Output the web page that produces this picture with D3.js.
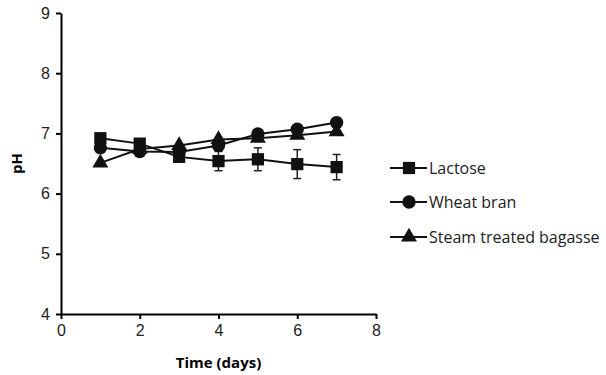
<!DOCTYPE html>
<html>
<head>
<meta charset="utf-8">
<script src="https://cdn.jsdelivr.net/npm/d3@7"></script>
<style>
  body { margin: 0; background: #fff; }
  svg { font-family: "Open Sans", "DejaVu Sans", sans-serif; }
  .axis path, .axis line { stroke: #000; stroke-width: 2; }
  .axis text { font-size: 16px; fill: #222; }
</style>
</head>
<body>
<div id="chart"></div>
<script>
const days = [1, 2, 3, 4, 5, 6, 7];
const lactose = [6.92, 6.83, 6.61, 6.54, 6.57, 6.49, 6.44];
const lactoseErr = [0.04, 0.04, 0.05, 0.16, 0.19, 0.24, 0.21];
const wheatBran = [6.76, 6.70, 6.69, 6.80, 6.99, 7.07, 7.18];
const bagasse = [6.51, 6.74, 6.80, 6.90, 6.92, 6.97, 7.03];
const seriesNames = ['Lactose', 'Wheat bran', 'Steam treated bagasse'];
const xTicks = [0, 2, 4, 6, 8];
const yTicks = [4, 5, 6, 7, 8, 9];

const W = 606, H = 375, M = { t: 13, r: 230, b: 61, l: 61 };
const svg = d3.select('#chart').append('svg').attr('width', W).attr('height', H);

const x = d3.scaleLinear().domain([0, 8]).range([M.l, W - M.r]);
const y = d3.scaleLinear().domain([4, 9]).range([H - M.b, M.t]);

svg.append('g').attr('class', 'axis').attr('transform', `translate(0,${H - M.b})`)
  .call(d3.axisBottom(x).tickValues(xTicks).tickFormat(d3.format('d')).tickSize(5).tickSizeOuter(0).tickPadding(6));
svg.append('g').attr('class', 'axis').attr('transform', `translate(${M.l},0)`)
  .call(d3.axisLeft(y).tickValues(yTicks).tickFormat(d3.format('d')).tickSize(5).tickSizeOuter(0).tickPadding(6));

svg.append('text').attr('x', (M.l + W - M.r) / 2).attr('y', 368).attr('text-anchor', 'middle')
  .style('font-size', '15px').style('font-weight', 'bold').text('Time (days)');
svg.append('text').attr('transform', `translate(22,${(M.t + H - M.b) / 2}) rotate(-90)`)
  .attr('text-anchor', 'middle').style('font-size', '15px').style('font-weight', 'bold').text('pH');

const series = [
  { name: seriesNames[0], vals: lactose, err: lactoseErr, sym: d3.symbolSquare, size: 150 },
  { name: seriesNames[1], vals: wheatBran, err: null, sym: d3.symbolCircle, size: 140 },
  { name: seriesNames[2], vals: bagasse, err: null, sym: d3.symbolTriangle, size: 110 }
];

const line = d3.line().x((d, i) => x(days[i])).y(d => y(d));

// error bars
const eb = svg.append('g').attr('stroke', '#222').attr('stroke-width', 1.5);
lactose.forEach((v, i) => {
  const e = lactoseErr[i], cx = x(days[i]);
  eb.append('line').attr('x1', cx).attr('x2', cx).attr('y1', y(v + e)).attr('y2', y(v - e));
  eb.append('line').attr('x1', cx - 4).attr('x2', cx + 4).attr('y1', y(v + e)).attr('y2', y(v + e));
  eb.append('line').attr('x1', cx - 4).attr('x2', cx + 4).attr('y1', y(v - e)).attr('y2', y(v - e));
});

series.forEach(s => {
  svg.append('path').datum(s.vals).attr('d', line).attr('fill', 'none').attr('stroke', '#111').attr('stroke-width', 2);
  svg.selectAll(null).data(s.vals).enter().append('path')
    .attr('d', d3.symbol().type(s.sym).size(s.size))
    .attr('transform', (d, i) => `translate(${x(days[i])},${y(d)})`)
    .attr('fill', '#111');
});

// legend
const lg = svg.append('g').attr('transform', 'translate(390,0)');
const rows = [168, 202, 237];
series.forEach((s, i) => {
  const g = lg.append('g').attr('transform', `translate(0,${rows[i]})`);
  g.append('line').attr('x1', 0).attr('x2', 37).attr('stroke', '#111').attr('stroke-width', 2);
  g.append('path').attr('d', d3.symbol().type(s.sym).size(s.size)).attr('transform', 'translate(19,0)').attr('fill', '#111');
  g.append('text').attr('x', 39).attr('y', 0).attr('dy', '0.35em').style('font-size', '16px').attr('fill', '#222').text(s.name);
});
</script>
</body>
</html>
